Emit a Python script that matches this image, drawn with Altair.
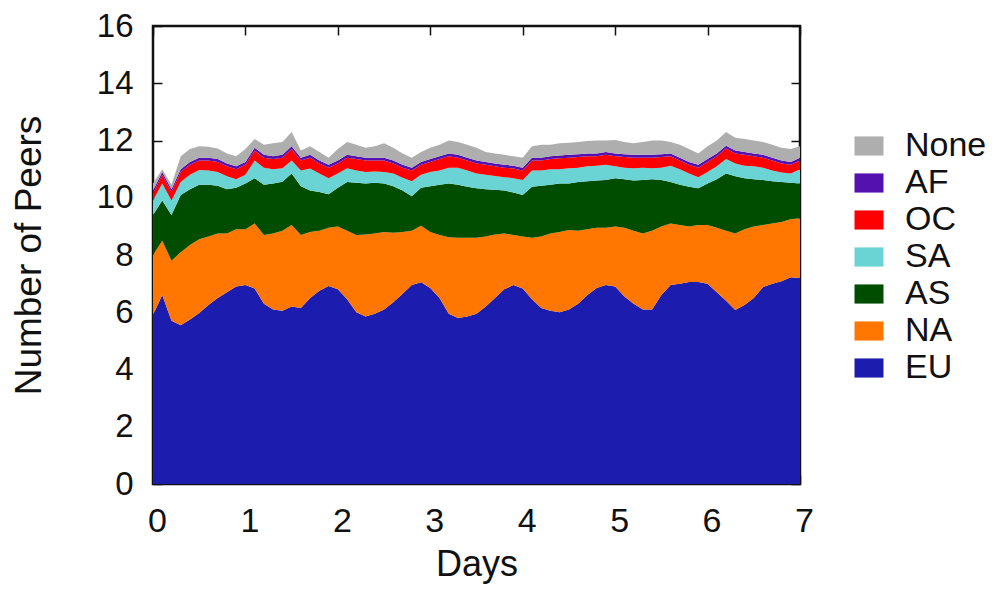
import altair as alt
import pandas as pd

days = [0.0, 0.1, 0.2, 0.3, 0.4, 0.5, 0.6, 0.7, 0.8, 0.9,
        1.0, 1.1, 1.2, 1.3, 1.4, 1.5, 1.6, 1.7, 1.8, 1.9,
        2.0, 2.1, 2.2, 2.3, 2.4, 2.5, 2.6, 2.7, 2.8, 2.9,
        3.0, 3.1, 3.2, 3.3, 3.4, 3.5, 3.6, 3.7, 3.8, 3.9,
        4.0, 4.1, 4.2, 4.3, 4.4, 4.5, 4.6, 4.7, 4.8, 4.9,
        5.0, 5.1, 5.2, 5.3, 5.4, 5.5, 5.6, 5.7, 5.8, 5.9,
        6.0, 6.1, 6.2, 6.3, 6.4, 6.5, 6.6, 6.7, 6.8, 6.9, 7.0]

# upper boundary of each stacked band
eu_top = [5.9, 6.6, 5.7, 5.55, 5.75, 5.97, 6.25, 6.5, 6.7, 6.9, 6.95,
          6.83, 6.3, 6.1, 6.05, 6.2, 6.15, 6.5, 6.75, 6.92, 6.8,
          6.45, 6.0, 5.85, 5.95, 6.1, 6.35, 6.65, 6.95, 7.05, 6.85,
          6.5, 5.95, 5.8, 5.85, 5.95, 6.2, 6.5, 6.8, 6.95, 6.83,
          6.45, 6.15, 6.05, 6.0, 6.1, 6.3, 6.6, 6.85, 6.95, 6.9,
          6.55, 6.3, 6.1, 6.1, 6.6, 6.95, 7.0, 7.06, 7.06, 7.0,
          6.7, 6.4, 6.08, 6.25, 6.5, 6.88, 7.0, 7.08, 7.22, 7.2]
na_top = [8.0, 8.5, 7.8, 8.1, 8.35, 8.55, 8.65, 8.75, 8.75, 8.9, 8.9,
          9.1, 8.7, 8.75, 8.85, 9.05, 8.7, 8.8, 8.85, 8.95, 9.0,
          8.85, 8.7, 8.72, 8.75, 8.8, 8.78, 8.8, 8.85, 9.02, 8.8,
          8.7, 8.62, 8.6, 8.6, 8.6, 8.65, 8.72, 8.75, 8.7, 8.65,
          8.6, 8.65, 8.75, 8.8, 8.87, 8.85, 8.9, 8.95, 8.95, 9.0,
          8.95, 8.85, 8.75, 8.85, 9.0, 9.1, 9.05, 9.0, 9.05, 9.05,
          8.95, 8.85, 8.75, 8.9, 9.0, 9.05, 9.1, 9.15, 9.25, 9.28]
as_top = [9.4, 9.9, 9.4, 10.1, 10.3, 10.45, 10.45, 10.42, 10.3, 10.35, 10.5,
          10.68, 10.45, 10.5, 10.56, 10.85, 10.4, 10.25, 10.2, 10.12, 10.35,
          10.55, 10.52, 10.5, 10.52, 10.5, 10.4, 10.25, 10.05, 10.35, 10.4,
          10.45, 10.5, 10.45, 10.38, 10.33, 10.3, 10.28, 10.25, 10.18, 10.1,
          10.38, 10.42, 10.45, 10.5, 10.5, 10.55, 10.58, 10.6, 10.62, 10.68,
          10.65, 10.6, 10.62, 10.65, 10.62, 10.55, 10.45, 10.38, 10.33, 10.5,
          10.65, 10.85, 10.75, 10.68, 10.65, 10.62, 10.58, 10.55, 10.52, 10.5]
sa_top = [9.9, 10.5, 9.9, 10.55, 10.8, 10.97, 10.95, 10.9, 10.75, 10.65, 10.8,
          11.3, 11.05, 11.0, 11.03, 11.3, 10.95, 11.02, 10.85, 10.68, 10.85,
          11.03, 10.95, 10.9, 10.92, 10.9, 10.85, 10.7, 10.58, 10.8, 10.9,
          10.95, 11.05, 11.05, 10.95, 10.85, 10.8, 10.76, 10.72, 10.68, 10.62,
          10.95, 10.95, 11.0, 11.0, 11.03, 11.05, 11.1, 11.12, 11.15, 11.1,
          11.05, 11.03, 11.05, 11.03, 11.05, 11.12, 11.0, 10.85, 10.72, 10.9,
          11.1, 11.35, 11.2, 11.12, 11.1, 11.05, 10.95, 10.88, 10.85, 11.0]
oc_top = [10.15, 10.8, 10.2, 10.9, 11.15, 11.3, 11.3, 11.25, 11.1, 11.0, 11.15,
          11.65, 11.4, 11.35, 11.4, 11.7, 11.3, 11.4, 11.2, 11.05, 11.2,
          11.4, 11.35, 11.3, 11.3, 11.3, 11.2, 11.05, 10.95, 11.15, 11.25,
          11.35, 11.45, 11.4, 11.3, 11.2, 11.15, 11.1, 11.05, 11.02, 10.95,
          11.3, 11.3, 11.35, 11.38, 11.4, 11.42, 11.45, 11.45, 11.5, 11.45,
          11.42, 11.4, 11.4, 11.4, 11.42, 11.45, 11.3, 11.15, 11.05, 11.25,
          11.45, 11.72, 11.55, 11.5, 11.45, 11.4, 11.3, 11.2, 11.15, 11.3]
af_top = [10.25, 10.9, 10.3, 11.0, 11.25, 11.4, 11.4, 11.35, 11.2, 11.1, 11.25,
          11.75, 11.5, 11.45, 11.5, 11.8, 11.4, 11.5, 11.3, 11.15, 11.3,
          11.5, 11.45, 11.4, 11.4, 11.4, 11.3, 11.15, 11.05, 11.25, 11.35,
          11.45, 11.55, 11.5, 11.4, 11.3, 11.25, 11.2, 11.15, 11.12, 11.05,
          11.4, 11.4, 11.45, 11.48, 11.5, 11.52, 11.55, 11.55, 11.6, 11.55,
          11.52, 11.5, 11.5, 11.5, 11.52, 11.55, 11.4, 11.25, 11.15, 11.35,
          11.55, 11.82, 11.65, 11.6, 11.55, 11.5, 11.4, 11.3, 11.25, 11.4]
none_top = [10.5, 11.0, 10.45, 11.45, 11.7, 11.8, 11.78, 11.72, 11.55, 11.45, 11.7,
            12.05, 11.85, 11.9, 11.95, 12.3, 11.65, 11.8, 11.6, 11.4, 11.7,
            11.95, 11.85, 11.75, 11.8, 11.9, 11.75, 11.55, 11.4, 11.6, 11.75,
            11.85, 12.0, 11.95, 11.85, 11.75, 11.6, 11.55, 11.5, 11.45, 11.4,
            11.8, 11.85, 11.85, 11.9, 11.92, 11.95, 11.98, 12.0, 12.0, 12.02,
            11.95, 11.9, 11.95, 12.0, 12.0, 11.95, 11.85, 11.7, 11.55, 11.8,
            12.0, 12.3, 12.1, 12.05, 12.0, 11.95, 11.85, 11.75, 11.7, 11.8]
floor = [0.0] * len(days)

series_names = ["None", "AF", "OC", "SA", "AS", "NA", "EU"]
series_colors = ["#aeaeae", "#5511b0", "#ff0000", "#6ad4d4", "#004d00", "#ff7700", "#1c1caf"]
y_ticks = [0, 2, 4, 6, 8, 10, 12, 14, 16]
x_ticks = [0, 1, 2, 3, 4, 5, 6, 7]

bands = [("EU", floor, eu_top), ("NA", eu_top, na_top), ("AS", na_top, as_top),
         ("SA", as_top, sa_top), ("OC", sa_top, oc_top), ("AF", oc_top, af_top),
         ("None", af_top, none_top)]
rows = []
for name, lo, hi in bands:
    for d, a, b in zip(days, lo, hi):
        rows.append({"day": d, "lo": a, "hi": b, "series": name})
df = pd.DataFrame(rows)

FONT = "Liberation Sans"
xs = alt.Scale(domain=[0, 7], nice=False, zero=False)
ys = alt.Scale(domain=[0, 16], nice=False)

areas = alt.Chart(df).mark_area(interpolate="linear").encode(
    x=alt.X("day:Q", scale=xs, title="Days",
            axis=alt.Axis(values=x_ticks, orient="bottom", offset=-9, tickSize=9,
                          domain=False, grid=False, labelFontSize=34, labelPadding=20,
                          labelFlush=False, labelOffset=4,
                          tickColor="#111", tickWidth=1.5, labelColor="#111",
                          titleFontSize=36, titleFontWeight="normal", titleColor="#111",
                          titlePadding=9, labelFont=FONT, titleFont=FONT)),
    y=alt.Y("hi:Q", scale=ys, stack=None, title="Number of Peers",
            axis=alt.Axis(values=y_ticks, orient="left", offset=-9, tickSize=9,
                          domain=False, grid=False, labelFontSize=33, labelPadding=20,
                          labelFlush=False,
                          tickColor="#111", tickWidth=1.5, labelColor="#111",
                          titleFontSize=37, titleFontWeight="normal", titleColor="#111",
                          titlePadding=48, labelFont=FONT, titleFont=FONT)),
    y2="lo:Q",
    color=alt.Color("series:N",
                    scale=alt.Scale(domain=series_names, range=series_colors),
                    legend=alt.Legend(title=None, orient="none", legendX=699, legendY=103,
                                      symbolType="M-1,-0.66H1V0.66H-1Z", symbolSize=841,
                                      symbolStrokeWidth=0, symbolOpacity=1,
                                      labelFontSize=34, labelFont=FONT, labelColor="#111",
                                      labelOffset=19, rowPadding=3)),
)

mirror = alt.Chart(df).mark_point(opacity=0).encode(
    x=alt.X("day:Q", scale=xs, title=None,
            axis=alt.Axis(values=x_ticks, orient="top", offset=-9, tickSize=9,
                          domain=False, grid=False, labels=False,
                          tickColor="#111", tickWidth=1.5)),
    y=alt.Y("hi:Q", scale=ys, title=None,
            axis=alt.Axis(values=y_ticks, orient="right", offset=-9, tickSize=9,
                          domain=False, grid=False, labels=False,
                          tickColor="#111", tickWidth=1.5)),
)

chart = alt.layer(areas, mirror).resolve_axis(x="independent", y="independent").properties(
    width=647, height=458,
    autosize=alt.AutoSizeParams(type="none"),
    padding={"left": 145, "top": 18, "right": 188, "bottom": 101},
).configure_view(stroke="#111", strokeWidth=2.5)

chart.save("out.html", embed_options={"renderer": "svg", "actions": False})
